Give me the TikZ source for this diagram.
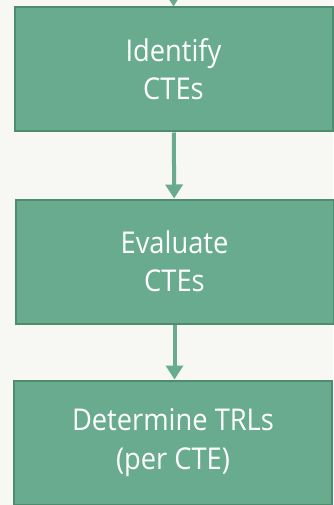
\documentclass[tikz,border=0pt]{standalone}
\usepackage{fontspec}
\setmainfont[FakeStretch=0.91]{Open Sans}
\usetikzlibrary{arrows.meta}
\definecolor{boxgreen}{HTML}{68AB8F}
\definecolor{edgegreen}{HTML}{4E8B6F}
\definecolor{paper}{HTML}{F7F8F3}
\tikzset{
    stepbox/.style={draw=edgegreen, line width=2pt, fill=boxgreen, text=white,
        minimum width=318pt, minimum height=124pt, align=center,
        font=\fontsize{30}{38.5}\selectfont,
        execute at begin node={\rule{0pt}{28pt}},
        execute at end node={\rule[-1pt]{0pt}{1pt}}},
    flow/.style={draw=boxgreen, line width=4pt, -{Triangle[width=17pt,length=14pt]}}
}
\begin{document}
\begin{tikzpicture}[x=1pt, y=-1pt]
    \fill[paper] (0,0) rectangle (333,505);
    \useasboundingbox (0,0) rectangle (333,505);

    \coordinate (top) at (173.5,-5);
    \node[stepbox] (identify) at (173.5,69.5) {Identify\\CTEs};
    \node[stepbox] (evaluate) at (174.5,261.5) {Evaluate\\CTEs};
    \node[stepbox] (determine) at (173,442.5) {Determine TRLs\\(per CTE)};

    \draw[flow] (top) -- (identify);
    \draw[flow] (identify) -- (evaluate);
    \draw[flow] (evaluate.south) -- (evaluate.south |- determine.north);
\end{tikzpicture}
\end{document}
